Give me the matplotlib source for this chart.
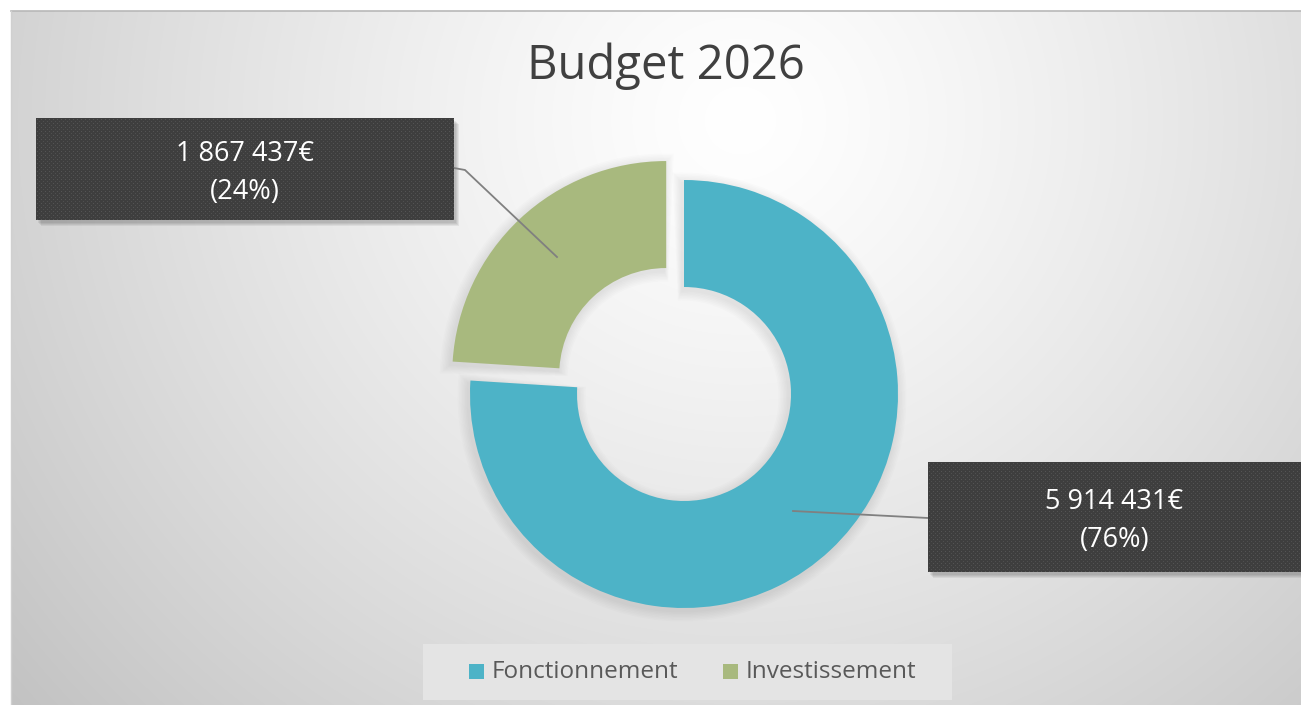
import numpy as np
import matplotlib
matplotlib.use("Agg")
import matplotlib.pyplot as plt
from matplotlib.patches import Rectangle, Wedge

# data
labels = ["Fonctionnement", "Investissement"]
values = [5914431, 1867437]
colors = ["#4db3c7", "#a8b97e"]
title = "Budget 2026"

W, H = 1301, 705
fig = plt.figure(figsize=(W / 100, H / 100), dpi=100)
ax = fig.add_axes([0, 0, 1, 1])
ax.set_xlim(0, W)
ax.set_ylim(0, H)
ax.set_aspect("equal")
ax.axis("off")
fig.patch.set_facecolor("white")

# background radial gradient of the chart area (y measured from top)
x0, y0 = 11, 11
xs = np.arange(x0, W)
ys = np.arange(y0, H)
gx, gy = np.meshgrid(xs, ys)
d = np.hypot((gx - 740) / 1.05, (gy - 120)) / 820
shade = 1 - 0.21 * np.clip(d, 0, 1.2) ** 1.25
rgb = np.dstack([shade, shade, shade])
ax.imshow(rgb, extent=(x0, W, 0, H - y0), origin="upper", zorder=0,
          interpolation="bilinear")
ax.plot([x0, W], [H - y0, H - y0], color="#b8b8b8", lw=1.2, zorder=1)
ax.plot([x0, x0], [0, H - y0], color="#d0d0d0", lw=1.0, zorder=1)

# donut
cx, cy, R, ring = 684, H - 394, 214, 107
wedges, _ = ax.pie(values, colors=colors, startangle=90, counterclock=False,
                   center=(cx, cy), radius=R, explode=[0, 26],
                   wedgeprops=dict(width=ring, linewidth=0))
for w in wedges:
    w.set_zorder(2)
    # soft shadow for each segment
    (wx, wy), t1, t2 = w.center, w.theta1, w.theta2
    for k in range(1, 8):
        ax.add_patch(Wedge((wx - 2, wy - 3), R + k * 1.5, t1 - k * 0.35,
                           t2 + k * 0.35, width=ring + k * 3.0, color="black",
                           alpha=0.012, lw=0, zorder=1.5))
ax.set_xlim(0, W)
ax.set_ylim(0, H)
ax.set_aspect("equal")
ax.axis("off")

total = sum(values)


def fmt(v):
    return f"{v:,}".replace(",", " ") + "€"


def label_box(x_left, y_top, w, h, text):
    # shadow
    for k in range(4):
        ax.add_patch(Rectangle((x_left + 2 + k, H - y_top - h - 3 - k), w, h,
                               color="black", alpha=0.06, lw=0, zorder=3))
    # dotted texture
    pw, ph = int(w), int(h)
    tex = np.full((ph, pw), 0.245)
    tex[1::4, 1::4] = 0.33
    tex[3::4, 3::4] = 0.31
    ax.imshow(np.dstack([tex, tex, tex]),
              extent=(x_left, x_left + w, H - y_top - h, H - y_top),
              origin="upper", zorder=4, interpolation="nearest")
    ax.text(x_left + w / 2, H - y_top - h / 2 - 4, text, color="white",
            fontsize=19.5, family="Open Sans", ha="center", va="center",
            linespacing=1.45, zorder=5)


# leader lines
ax.plot([454, 465, 557], [H - 168, H - 170, H - 257], color="#808080",
        lw=1.3, zorder=3.5)
ax.plot([793, 928], [H - 511, H - 518], color="#808080", lw=1.3, zorder=3.5)

label_box(36, 118, 418, 102, f"{fmt(values[1])}\n({values[1] / total:.0%})")
label_box(928, 462, 373, 110, f"{fmt(values[0])}\n({values[0] / total:.0%})")

# title
ax.text(666, H - 66, title, fontsize=34, family="Open Sans", color="#404040",
        ha="center", va="center", zorder=5)

# legend
ax.add_patch(Rectangle((423, H - 700), 529, 56, color="#e4e4e4", lw=0,
                       zorder=3))
items = [(469, labels[0], colors[0]), (723, labels[1], colors[1])]
for lx, name, c in items:
    ax.add_patch(Rectangle((lx, H - 679), 15, 15, color=c, lw=0, zorder=4))
    ax.text(lx + 23, H - 672, name, fontsize=17.5, family="Open Sans",
            color="#595959", ha="left", va="center", zorder=5)

fig.savefig("out.png", dpi=100)
